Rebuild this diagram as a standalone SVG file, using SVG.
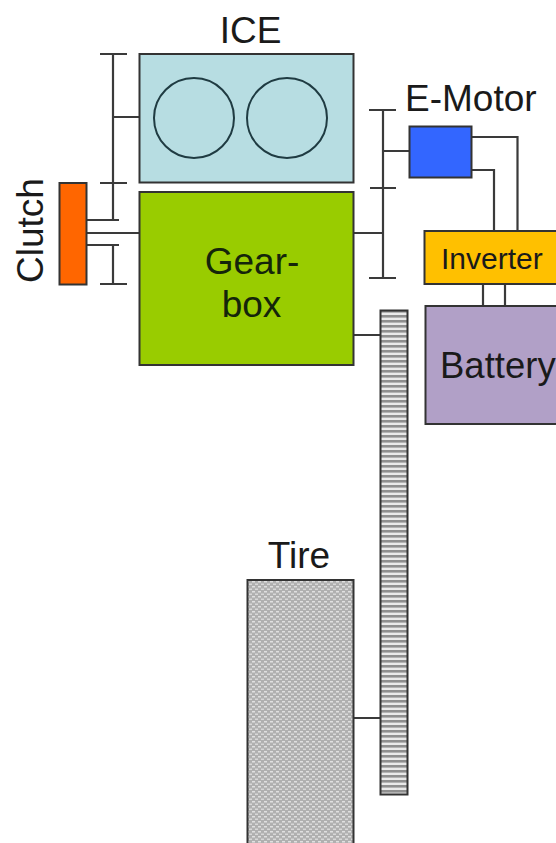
<svg xmlns="http://www.w3.org/2000/svg" width="556" height="843" viewBox="0 0 556 843">
<style>
text{font-family:"Liberation Sans",Arial,sans-serif;fill:#1a1a1a}
.box{stroke:#333;stroke-width:2}
.l{fill:none;stroke:#3a3a3a;stroke-width:2.2}
.lb{font-size:37px}
.gb{font-size:37px;fill:#14250a}
</style>
<defs>
<pattern id="gear" width="6" height="5" patternUnits="userSpaceOnUse"><rect width="6" height="5" fill="#eaeaea"/><rect width="6" height="2.600" fill="#8f8f8f"/></pattern>
<pattern id="tire" width="6" height="5" patternUnits="userSpaceOnUse"><rect width="6" height="5" fill="#b0b0b0"/><rect x="0" y="1" width="3" height="1.500" fill="#e0e0e0"/><rect x="3" y="3.500" width="3" height="1.500" fill="#d8d8d8"/></pattern>
</defs>
<rect width="556" height="843" fill="#fff"/>
<g id="connectors" class="l">
<path d="M100 54H127M113 54V220M113 117H139M100 183H127M87 220H119M87 233H139M87 245H119M113 245V284M100 284H127"/>
<path d="M369 110H396M383 110V278M383 151H409M370 188H396M354 233H383M369 278H396"/>
<path d="M472 137H517.500V230M472 170H494V230M483 285V306M505 285V306M354 335H380M354 718H380"/>
</g>
<g id="ice"><rect class="box" x="139.500" y="54" width="214" height="128.500" fill="#b7dde2"/><circle cx="194" cy="118" r="40" fill="none" stroke="#1f3b42" stroke-width="2"/><circle cx="287" cy="118" r="40" fill="none" stroke="#1f3b42" stroke-width="2"/><text class="lb" x="250.500" y="43" text-anchor="middle">ICE</text></g>
<g id="clutch"><rect class="box" x="59.500" y="183" width="27" height="101.500" fill="#ff6600"/><text class="lb" transform="translate(43 283) rotate(-90)">Clutch</text></g>
<g id="gearbox"><rect class="box" x="139.500" y="192" width="214" height="173" fill="#99cc00"/><text class="gb" x="252" y="274" text-anchor="middle">Gear-</text><text class="gb" x="251.500" y="317" text-anchor="middle">box</text></g>
<g id="emotor"><rect class="box" x="409.500" y="126.500" width="62" height="51" fill="#3366ff"/><text class="lb" x="405" y="110.500">E-Motor</text></g>
<g id="inverter"><rect class="box" x="424.500" y="231" width="140" height="53" fill="#ffc000"/><text x="441" y="269" font-size="30">Inverter</text></g>
<g id="battery"><rect class="box" x="425.500" y="306" width="140" height="118" fill="#b1a0c7"/><text x="440" y="378" font-size="36.500">Battery</text></g>
<g id="gear-wheel"><rect class="box" x="380.500" y="310.500" width="27" height="484" fill="url(#gear)"/></g>
<g id="tire-wheel"><rect class="box" x="247.500" y="580" width="106" height="270" fill="url(#tire)"/><text class="lb" x="299" y="568" text-anchor="middle">Tire</text></g>
</svg>
